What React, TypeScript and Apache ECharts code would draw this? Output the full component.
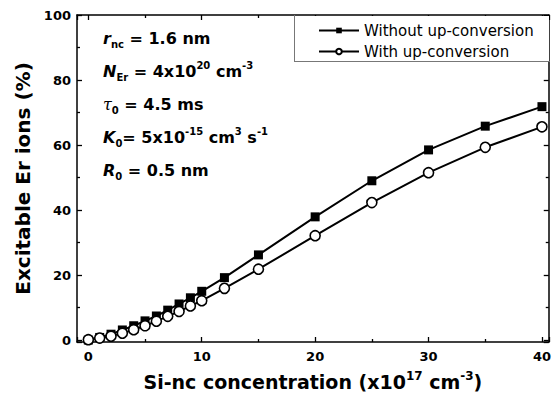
import React, { useEffect, useRef } from "react";
import * as echarts from "echarts";

const concentration = [0, 1, 2, 3, 4, 5, 6, 7, 8, 9, 10, 12, 15, 20, 25, 30, 35, 40];
const withoutUpConversion = [0, 0.8, 1.8, 3.1, 4.4, 5.9, 7.4, 9.2, 11.1, 13.0, 15.0, 19.2, 26.2, 37.9, 49.0, 58.5, 65.8, 71.8];
const withUpConversion = [0.1, 0.6, 1.2, 2.1, 3.2, 4.4, 5.8, 7.3, 8.8, 10.5, 12.1, 15.9, 21.8, 32.1, 42.3, 51.5, 59.3, 65.6];
const seriesNames = ["Without up-conversion", "With up-conversion"];

const BOLD = "DejaVu Sans";

const richStyles: any = {
  b: { fontFamily: BOLD, fontWeight: "bold", fontSize: 16, lineHeight: 22, color: "#000" },
  bi: { fontFamily: BOLD, fontWeight: "bold", fontStyle: "italic", fontSize: 16, lineHeight: 22, color: "#000" },
  t: { fontFamily: "DejaVu Serif", fontStyle: "italic", fontSize: 16, lineHeight: 22, color: "#000" },
  sub: { fontFamily: BOLD, fontWeight: "bold", fontSize: 10, lineHeight: 10, padding: [8, 0, 0, 0], verticalAlign: "bottom", color: "#000" },
  sup: { fontFamily: BOLD, fontWeight: "bold", fontSize: 10, lineHeight: 8, verticalAlign: "top", color: "#000" },
};

const annotations = [
  "{bi|r}{sub|nc}{b| = 1.6 nm}",
  "{bi|N}{sub|Er}{b| = 4x10}{sup|20}{b| cm}{sup|-3}",
  "{t|τ}{sub|0}{b| = 4.5 ms}",
  "{bi|K}{sub|0}{b|= 5x10}{sup|-15}{b| cm}{sup|3}{b| s}{sup|-1}",
  "{bi|R}{sub|0}{b| = 0.5 nm}",
];

export default function App() {
  const ref = useRef<HTMLDivElement>(null);
  useEffect(() => {
    if (!ref.current) return;
    const chart = echarts.init(ref.current, null, { renderer: "svg" });
    const tickLabel = { fontFamily: BOLD, fontWeight: "bold" as const, fontSize: 13, color: "#000" };
    const axisCommon = {
      axisLine: { show: true, onZero: false, lineStyle: { color: "#000", width: 1.5 } },
      axisTick: { show: true, inside: true, length: 5, lineStyle: { color: "#000", width: 1.3 } },
      minorTick: { show: true, splitNumber: 2, length: 3, lineStyle: { color: "#000", width: 1.3 } },
      splitLine: { show: false },
    };
    chart.setOption({
      animation: false,
      backgroundColor: "#fff",
      grid: { left: 77, right: 4, top: 15, bottom: 59 },
      xAxis: [
        {
          type: "value",
          min: -1,
          max: 40.6,
          splitNumber: 4,
          minInterval: 10,
          maxInterval: 10,
          position: "bottom",
          ...axisCommon,
          axisLabel: {
            ...tickLabel,
            margin: 8,
            showMinLabel: false,
            showMaxLabel: false,
            formatter: (v: number) => (v >= 0 && v % 10 === 0 ? String(v) : ""),
          },
          name: "{a|Si-nc concentration (x10}{s|17}{a| cm}{s|-3}{a|)}",
          nameLocation: "middle",
          nameGap: 28,
          nameTextStyle: {
            rich: {
              a: { fontFamily: BOLD, fontWeight: "bold", fontSize: 19, lineHeight: 24, color: "#000" },
              s: { fontFamily: BOLD, fontWeight: "bold", fontSize: 12, lineHeight: 10, verticalAlign: "top", color: "#000" },
            },
          },
        },
        {
          type: "value",
          min: -1,
          max: 40.6,
          splitNumber: 4,
          minInterval: 10,
          maxInterval: 10,
          position: "top",
          ...axisCommon,
          axisLabel: { show: false },
        },
      ],
      yAxis: [
        {
          type: "value",
          min: -0.6,
          max: 100,
          splitNumber: 5,
          minInterval: 20,
          maxInterval: 20,
          position: "left",
          ...axisCommon,
          axisLabel: {
            ...tickLabel,
            margin: 6,
            showMinLabel: false,
            formatter: (v: number) => (v >= 0 && v % 20 === 0 ? String(v) : ""),
          },
          name: "Excitable Er ions (%)",
          nameLocation: "middle",
          nameGap: 27,
          nameTextStyle: { fontFamily: BOLD, fontWeight: "bold", fontSize: 20, color: "#000" },
        },
        {
          type: "value",
          min: -0.6,
          max: 100,
          splitNumber: 5,
          minInterval: 20,
          maxInterval: 20,
          position: "right",
          ...axisCommon,
          axisLabel: { show: false },
        },
      ],
      legend: {
        orient: "vertical",
        left: 313,
        top: 18,
        itemWidth: 40,
        itemHeight: 7,
        itemGap: 6,
        z: 20,
        data: seriesNames,
        textStyle: { fontFamily: "DejaVu Sans", fontSize: 15, color: "#000", padding: [0, 0, 0, 0] },
      },
      graphic: [
        { type: "rect", z: 15, shape: { x: 294, y: 16, width: 255, height: 45 }, style: { fill: "#fff", stroke: null } },
        { type: "line", z: 16, shape: { x1: 294.5, y1: 15, x2: 294.5, y2: 61.5 }, style: { stroke: "#777", lineWidth: 1 } },
        { type: "line", z: 16, shape: { x1: 294, y1: 61.5, x2: 550, y2: 61.5 }, style: { stroke: "#777", lineWidth: 1 } },
        ...annotations.map((t, i) => ({
          type: "text",
          z: 10,
          x: 103,
          y: 38 + i * 33,
          style: { text: t, rich: richStyles, verticalAlign: "middle", align: "left" },
        })),
      ],
      series: [
        {
          name: seriesNames[0],
          type: "line",
          data: concentration.map((x, i) => [x, withoutUpConversion[i]]),
          symbol: "rect",
          symbolSize: 9,
          lineStyle: { color: "#000", width: 2 },
          itemStyle: { color: "#000", borderColor: "#000", borderWidth: 0 },
          z: 3,
        },
        {
          name: seriesNames[1],
          type: "line",
          data: concentration.map((x, i) => [x, withUpConversion[i]]),
          symbol: "circle",
          symbolSize: 10,
          lineStyle: { color: "#000", width: 2 },
          itemStyle: { color: "#fff", borderColor: "#000", borderWidth: 1.6 },
          z: 4,
        },
      ],
    });
    return () => chart.dispose();
  }, []);
  return <div ref={ref} style={{ width: 554, height: 401, position: "absolute", left: 0, top: 0 }} />;
}
